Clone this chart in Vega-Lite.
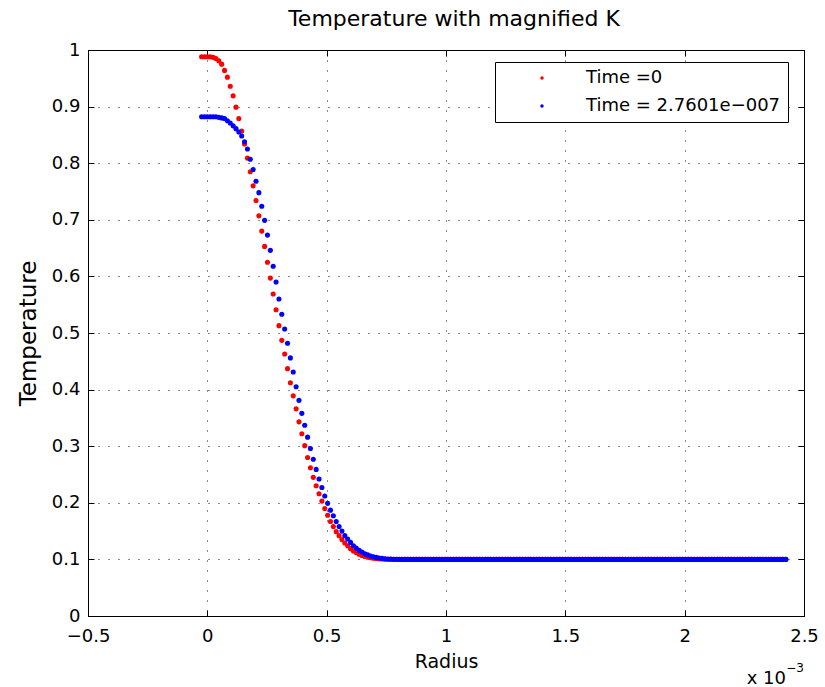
{
  "$schema": "https://vega.github.io/schema/vega-lite/v6.json",
  "autosize": "none",
  "width": 716,
  "height": 566,
  "padding": {"left": 88, "top": 50, "right": 21, "bottom": 71},
  "background": "white",
  "title": {"text": "Temperature with magnified K", "fontSize": 22, "fontWeight": "normal", "font": "DejaVu Sans", "color": "#000", "offset": 10, "dx": 8},
  "data": {"values": [
    {"r": -0.024, "a": 0.988, "b": 0.882},
    {"r": -0.012, "a": 0.988, "b": 0.882},
    {"r": 0, "a": 0.988, "b": 0.882},
    {"r": 0.012, "a": 0.988, "b": 0.882},
    {"r": 0.024, "a": 0.987, "b": 0.882},
    {"r": 0.036, "a": 0.985, "b": 0.882},
    {"r": 0.048, "a": 0.981, "b": 0.881},
    {"r": 0.06, "a": 0.975, "b": 0.880},
    {"r": 0.072, "a": 0.964, "b": 0.879},
    {"r": 0.084, "a": 0.952, "b": 0.875},
    {"r": 0.096, "a": 0.936, "b": 0.871},
    {"r": 0.108, "a": 0.919, "b": 0.866},
    {"r": 0.12, "a": 0.899, "b": 0.861},
    {"r": 0.132, "a": 0.879, "b": 0.855},
    {"r": 0.144, "a": 0.857, "b": 0.848},
    {"r": 0.156, "a": 0.834, "b": 0.838},
    {"r": 0.168, "a": 0.809, "b": 0.825},
    {"r": 0.18, "a": 0.785, "b": 0.807},
    {"r": 0.192, "a": 0.760, "b": 0.789},
    {"r": 0.204, "a": 0.734, "b": 0.768},
    {"r": 0.216, "a": 0.707, "b": 0.748},
    {"r": 0.228, "a": 0.680, "b": 0.724},
    {"r": 0.24, "a": 0.653, "b": 0.699},
    {"r": 0.252, "a": 0.625, "b": 0.673},
    {"r": 0.264, "a": 0.597, "b": 0.646},
    {"r": 0.276, "a": 0.569, "b": 0.618},
    {"r": 0.288, "a": 0.541, "b": 0.590},
    {"r": 0.3, "a": 0.513, "b": 0.560},
    {"r": 0.312, "a": 0.487, "b": 0.533},
    {"r": 0.324, "a": 0.463, "b": 0.507},
    {"r": 0.336, "a": 0.437, "b": 0.482},
    {"r": 0.348, "a": 0.412, "b": 0.456},
    {"r": 0.36, "a": 0.389, "b": 0.431},
    {"r": 0.372, "a": 0.366, "b": 0.405},
    {"r": 0.384, "a": 0.343, "b": 0.381},
    {"r": 0.396, "a": 0.322, "b": 0.358},
    {"r": 0.408, "a": 0.301, "b": 0.337},
    {"r": 0.42, "a": 0.280, "b": 0.316},
    {"r": 0.432, "a": 0.262, "b": 0.296},
    {"r": 0.444, "a": 0.245, "b": 0.277},
    {"r": 0.456, "a": 0.230, "b": 0.259},
    {"r": 0.468, "a": 0.216, "b": 0.242},
    {"r": 0.48, "a": 0.203, "b": 0.227},
    {"r": 0.492, "a": 0.190, "b": 0.212},
    {"r": 0.504, "a": 0.178, "b": 0.199},
    {"r": 0.516, "a": 0.167, "b": 0.187},
    {"r": 0.528, "a": 0.158, "b": 0.177},
    {"r": 0.54, "a": 0.149, "b": 0.167},
    {"r": 0.552, "a": 0.142, "b": 0.158},
    {"r": 0.564, "a": 0.135, "b": 0.150},
    {"r": 0.576, "a": 0.129, "b": 0.142},
    {"r": 0.588, "a": 0.124, "b": 0.136},
    {"r": 0.6, "a": 0.119, "b": 0.130},
    {"r": 0.612, "a": 0.115, "b": 0.124},
    {"r": 0.624, "a": 0.112, "b": 0.120},
    {"r": 0.636, "a": 0.109, "b": 0.116},
    {"r": 0.648, "a": 0.107, "b": 0.113},
    {"r": 0.66, "a": 0.105, "b": 0.110},
    {"r": 0.672, "a": 0.104, "b": 0.108},
    {"r": 0.684, "a": 0.103, "b": 0.106},
    {"r": 0.696, "a": 0.102, "b": 0.1045},
    {"r": 0.708, "a": 0.1015, "b": 0.1035},
    {"r": 0.72, "a": 0.101, "b": 0.1025},
    {"r": 0.732, "a": 0.1007, "b": 0.1018},
    {"r": 0.744, "a": 0.1005, "b": 0.1012},
    {"r": 0.756, "a": 0.1003, "b": 0.1008},
    {"r": 0.768, "a": 0.1002, "b": 0.1005},
    {"r": 0.78, "a": 0.1001, "b": 0.1003},
    {"r": 0.792, "a": 0.1, "b": 0.1002},
    {"r": 0.804, "a": 0.1, "b": 0.1001},
    {"r": 0.816, "a": 0.1, "b": 0.1},
    {"r": 0.828, "a": 0.1, "b": 0.1},
    {"r": 0.84, "a": 0.1, "b": 0.1},
    {"r": 0.852, "a": 0.1, "b": 0.1},
    {"r": 0.864, "a": 0.1, "b": 0.1},
    {"r": 0.876, "a": 0.1, "b": 0.1},
    {"r": 0.888, "a": 0.1, "b": 0.1},
    {"r": 0.9, "a": 0.1, "b": 0.1},
    {"r": 0.912, "a": 0.1, "b": 0.1},
    {"r": 0.924, "a": 0.1, "b": 0.1},
    {"r": 0.936, "a": 0.1, "b": 0.1},
    {"r": 0.948, "a": 0.1, "b": 0.1},
    {"r": 0.96, "a": 0.1, "b": 0.1},
    {"r": 0.972, "a": 0.1, "b": 0.1},
    {"r": 0.984, "a": 0.1, "b": 0.1},
    {"r": 0.996, "a": 0.1, "b": 0.1},
    {"r": 1.008, "a": 0.1, "b": 0.1},
    {"r": 1.02, "a": 0.1, "b": 0.1},
    {"r": 1.032, "a": 0.1, "b": 0.1},
    {"r": 1.044, "a": 0.1, "b": 0.1},
    {"r": 1.056, "a": 0.1, "b": 0.1},
    {"r": 1.068, "a": 0.1, "b": 0.1},
    {"r": 1.08, "a": 0.1, "b": 0.1},
    {"r": 1.092, "a": 0.1, "b": 0.1},
    {"r": 1.104, "a": 0.1, "b": 0.1},
    {"r": 1.116, "a": 0.1, "b": 0.1},
    {"r": 1.128, "a": 0.1, "b": 0.1},
    {"r": 1.14, "a": 0.1, "b": 0.1},
    {"r": 1.152, "a": 0.1, "b": 0.1},
    {"r": 1.164, "a": 0.1, "b": 0.1},
    {"r": 1.176, "a": 0.1, "b": 0.1},
    {"r": 1.188, "a": 0.1, "b": 0.1},
    {"r": 1.2, "a": 0.1, "b": 0.1},
    {"r": 1.212, "a": 0.1, "b": 0.1},
    {"r": 1.224, "a": 0.1, "b": 0.1},
    {"r": 1.236, "a": 0.1, "b": 0.1},
    {"r": 1.248, "a": 0.1, "b": 0.1},
    {"r": 1.26, "a": 0.1, "b": 0.1},
    {"r": 1.272, "a": 0.1, "b": 0.1},
    {"r": 1.284, "a": 0.1, "b": 0.1},
    {"r": 1.296, "a": 0.1, "b": 0.1},
    {"r": 1.308, "a": 0.1, "b": 0.1},
    {"r": 1.32, "a": 0.1, "b": 0.1},
    {"r": 1.332, "a": 0.1, "b": 0.1},
    {"r": 1.344, "a": 0.1, "b": 0.1},
    {"r": 1.356, "a": 0.1, "b": 0.1},
    {"r": 1.368, "a": 0.1, "b": 0.1},
    {"r": 1.38, "a": 0.1, "b": 0.1},
    {"r": 1.392, "a": 0.1, "b": 0.1},
    {"r": 1.404, "a": 0.1, "b": 0.1},
    {"r": 1.416, "a": 0.1, "b": 0.1},
    {"r": 1.428, "a": 0.1, "b": 0.1},
    {"r": 1.44, "a": 0.1, "b": 0.1},
    {"r": 1.452, "a": 0.1, "b": 0.1},
    {"r": 1.464, "a": 0.1, "b": 0.1},
    {"r": 1.476, "a": 0.1, "b": 0.1},
    {"r": 1.488, "a": 0.1, "b": 0.1},
    {"r": 1.5, "a": 0.1, "b": 0.1},
    {"r": 1.512, "a": 0.1, "b": 0.1},
    {"r": 1.524, "a": 0.1, "b": 0.1},
    {"r": 1.536, "a": 0.1, "b": 0.1},
    {"r": 1.548, "a": 0.1, "b": 0.1},
    {"r": 1.56, "a": 0.1, "b": 0.1},
    {"r": 1.572, "a": 0.1, "b": 0.1},
    {"r": 1.584, "a": 0.1, "b": 0.1},
    {"r": 1.596, "a": 0.1, "b": 0.1},
    {"r": 1.608, "a": 0.1, "b": 0.1},
    {"r": 1.62, "a": 0.1, "b": 0.1},
    {"r": 1.632, "a": 0.1, "b": 0.1},
    {"r": 1.644, "a": 0.1, "b": 0.1},
    {"r": 1.656, "a": 0.1, "b": 0.1},
    {"r": 1.668, "a": 0.1, "b": 0.1},
    {"r": 1.68, "a": 0.1, "b": 0.1},
    {"r": 1.692, "a": 0.1, "b": 0.1},
    {"r": 1.704, "a": 0.1, "b": 0.1},
    {"r": 1.716, "a": 0.1, "b": 0.1},
    {"r": 1.728, "a": 0.1, "b": 0.1},
    {"r": 1.74, "a": 0.1, "b": 0.1},
    {"r": 1.752, "a": 0.1, "b": 0.1},
    {"r": 1.764, "a": 0.1, "b": 0.1},
    {"r": 1.776, "a": 0.1, "b": 0.1},
    {"r": 1.788, "a": 0.1, "b": 0.1},
    {"r": 1.8, "a": 0.1, "b": 0.1},
    {"r": 1.812, "a": 0.1, "b": 0.1},
    {"r": 1.824, "a": 0.1, "b": 0.1},
    {"r": 1.836, "a": 0.1, "b": 0.1},
    {"r": 1.848, "a": 0.1, "b": 0.1},
    {"r": 1.86, "a": 0.1, "b": 0.1},
    {"r": 1.872, "a": 0.1, "b": 0.1},
    {"r": 1.884, "a": 0.1, "b": 0.1},
    {"r": 1.896, "a": 0.1, "b": 0.1},
    {"r": 1.908, "a": 0.1, "b": 0.1},
    {"r": 1.92, "a": 0.1, "b": 0.1},
    {"r": 1.932, "a": 0.1, "b": 0.1},
    {"r": 1.944, "a": 0.1, "b": 0.1},
    {"r": 1.956, "a": 0.1, "b": 0.1},
    {"r": 1.968, "a": 0.1, "b": 0.1},
    {"r": 1.98, "a": 0.1, "b": 0.1},
    {"r": 1.992, "a": 0.1, "b": 0.1},
    {"r": 2.004, "a": 0.1, "b": 0.1},
    {"r": 2.016, "a": 0.1, "b": 0.1},
    {"r": 2.028, "a": 0.1, "b": 0.1},
    {"r": 2.04, "a": 0.1, "b": 0.1},
    {"r": 2.052, "a": 0.1, "b": 0.1},
    {"r": 2.064, "a": 0.1, "b": 0.1},
    {"r": 2.076, "a": 0.1, "b": 0.1},
    {"r": 2.088, "a": 0.1, "b": 0.1},
    {"r": 2.1, "a": 0.1, "b": 0.1},
    {"r": 2.112, "a": 0.1, "b": 0.1},
    {"r": 2.124, "a": 0.1, "b": 0.1},
    {"r": 2.136, "a": 0.1, "b": 0.1},
    {"r": 2.148, "a": 0.1, "b": 0.1},
    {"r": 2.16, "a": 0.1, "b": 0.1},
    {"r": 2.172, "a": 0.1, "b": 0.1},
    {"r": 2.184, "a": 0.1, "b": 0.1},
    {"r": 2.196, "a": 0.1, "b": 0.1},
    {"r": 2.208, "a": 0.1, "b": 0.1},
    {"r": 2.22, "a": 0.1, "b": 0.1},
    {"r": 2.232, "a": 0.1, "b": 0.1},
    {"r": 2.244, "a": 0.1, "b": 0.1},
    {"r": 2.256, "a": 0.1, "b": 0.1},
    {"r": 2.268, "a": 0.1, "b": 0.1},
    {"r": 2.28, "a": 0.1, "b": 0.1},
    {"r": 2.292, "a": 0.1, "b": 0.1},
    {"r": 2.304, "a": 0.1, "b": 0.1},
    {"r": 2.316, "a": 0.1, "b": 0.1},
    {"r": 2.328, "a": 0.1, "b": 0.1},
    {"r": 2.34, "a": 0.1, "b": 0.1},
    {"r": 2.352, "a": 0.1, "b": 0.1},
    {"r": 2.364, "a": 0.1, "b": 0.1},
    {"r": 2.376, "a": 0.1, "b": 0.1},
    {"r": 2.388, "a": 0.1, "b": 0.1},
    {"r": 2.4, "a": 0.1, "b": 0.1},
    {"r": 2.412, "a": 0.1, "b": 0.1},
    {"r": 2.424, "a": 0.1, "b": 0.1}
  ]},
  "layer": [
    {
      "mark": {"type": "point", "filled": true, "size": 26, "opacity": 1},
      "encoding": {
        "x": {"field": "r", "type": "quantitative",
          "scale": {"domain": [-0.5, 2.5], "nice": false, "zero": false},
          "axis": {"orient": "bottom", "values": [-0.5, 0, 0.5, 1, 1.5, 2, 2.5], "format": "~g",
            "title": "Radius", "titleFontSize": 19, "titlePadding": 7,
            "grid": true, "gridDash": [1, 9], "gridColor": "#000", "gridOpacity": 0.9,
            "tickSize": -6, "labelPadding": 17, "labelFontSize": 18, "labelFlush": false}},
        "y": {"field": "a", "type": "quantitative",
          "scale": {"domain": [0, 1], "nice": false, "zero": false},
          "axis": {"orient": "left", "values": [0, 0.1, 0.2, 0.3, 0.4, 0.5, 0.6, 0.7, 0.8, 0.9, 1], "format": "~g",
            "title": "Temperature", "titleFontSize": 23, "titlePadding": 11,
            "grid": true, "gridDash": [1, 9], "gridColor": "#000", "gridOpacity": 0.9,
            "tickSize": -6, "labelPadding": 14, "labelFontSize": 18, "labelFlush": false}},
        "color": {"datum": "Time =0", "type": "nominal",
          "scale": {"domain": ["Time =0", "Time = 2.7601e−007"], "range": ["#ff0000", "#0000ff"]},
          "legend": {"orient": "none", "legendX": 407, "legendY": 12, "title": null}}
      }
    },
    {
      "mark": {"type": "point", "filled": true, "size": 26, "opacity": 1},
      "encoding": {
        "x": {"field": "r", "type": "quantitative",
          "scale": {"domain": [-0.5, 2.5], "nice": false, "zero": false},
          "axis": {"orient": "top", "values": [-0.5, 0, 0.5, 1, 1.5, 2, 2.5], "labels": false, "grid": false, "tickSize": -6, "title": null}},
        "y": {"field": "b", "type": "quantitative",
          "scale": {"domain": [0, 1], "nice": false, "zero": false},
          "axis": {"orient": "right", "values": [0, 0.1, 0.2, 0.3, 0.4, 0.5, 0.6, 0.7, 0.8, 0.9, 1], "labels": false, "grid": false, "tickSize": -6, "title": null}},
        "color": {"datum": "Time = 2.7601e−007", "type": "nominal"}
      }
    },
    {
      "data": {"values": [{"note": "x 10"}]},
      "mark": {"type": "text", "align": "right", "baseline": "alphabetic", "dx": -18, "dy": 68, "fontSize": 18, "font": "DejaVu Sans", "color": "#000"},
      "encoding": {
        "text": {"field": "note", "type": "nominal"},
        "x": {"datum": 2.5, "type": "quantitative", "scale": {"domain": [-0.5, 2.5], "nice": false, "zero": false}, "axis": null},
        "y": {"datum": 0, "type": "quantitative", "scale": {"domain": [0, 1], "nice": false, "zero": false}, "axis": null}
      }
    },
    {
      "data": {"values": [{"note": "−3"}]},
      "mark": {"type": "text", "align": "right", "baseline": "alphabetic", "dx": 0, "dy": 56, "fontSize": 12, "font": "DejaVu Sans", "color": "#000"},
      "encoding": {
        "text": {"field": "note", "type": "nominal"},
        "x": {"datum": 2.5, "type": "quantitative", "scale": {"domain": [-0.5, 2.5], "nice": false, "zero": false}, "axis": null},
        "y": {"datum": 0, "type": "quantitative", "scale": {"domain": [0, 1], "nice": false, "zero": false}, "axis": null}
      }
    }
  ],
  "resolve": {"axis": {"x": "independent", "y": "independent"}},
  "config": {
    "view": {"stroke": "#000", "strokeWidth": 1},
    "axis": {"domainColor": "#000", "domainWidth": 1, "tickColor": "#000", "tickWidth": 1, "labelColor": "#000", "titleColor": "#000",
      "labelFont": "DejaVu Sans", "titleFont": "DejaVu Sans", "titleFontWeight": "normal"},
    "legend": {"strokeColor": "#000", "fillColor": "#fff", "padding": 7, "symbolOffset": 31, "labelOffset": 35,
      "labelFontSize": 18, "labelFont": "DejaVu Sans", "labelColor": "#000", "labelLimit": 400, "symbolSize": 12, "symbolType": "circle",
      "symbolStrokeWidth": 0, "rowPadding": 10, "cornerRadius": 0}
  }
}
